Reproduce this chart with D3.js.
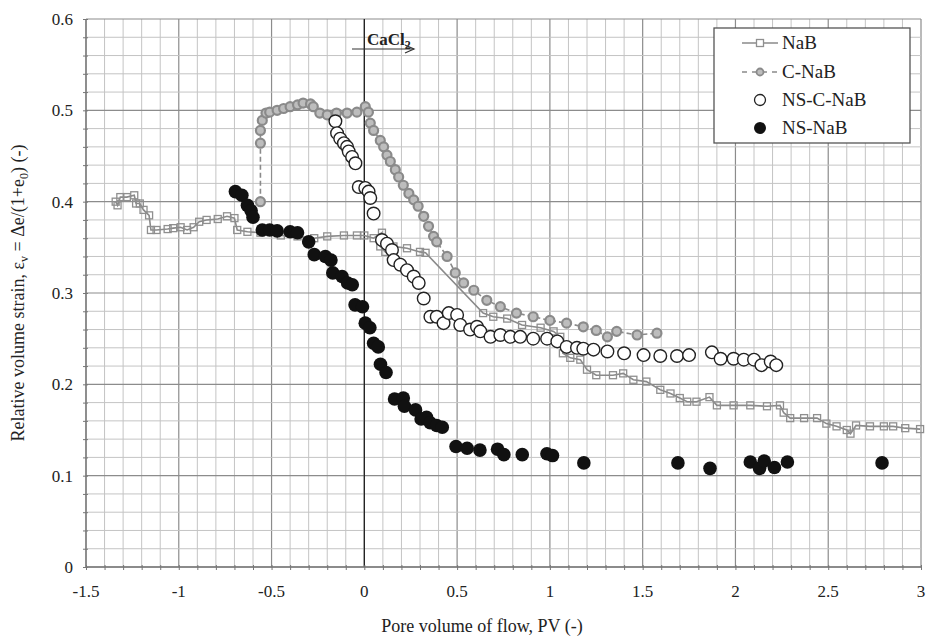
<!DOCTYPE html>
<html>
<head>
<meta charset="utf-8">
<script src="https://cdn.jsdelivr.net/npm/d3@7"></script>
<style>
  body { margin: 0; background: #fff; }
  text { font-family: "Times New Roman", Times, "Liberation Serif", serif !important; }
</style>
</head>
<body>
<svg id="chart" width="933" height="642"></svg>
<script>
// NaB (squares, solid line)
const nabX = [-1.34,-1.33,-1.315,-1.28,-1.24,-1.23,-1.21,-1.19,-1.16,-1.15,-1.12,-1.06,-1.03,-0.99,-0.955,-0.92,-0.89,-0.85,-0.79,-0.74,-0.70,-0.685,-0.63,-0.56,-0.45,-0.36,-0.27,-0.20,-0.11,-0.04,0.0,0.05,0.095,0.086,0.113,0.157,0.23,0.30,0.33,0.64,0.695,0.77,0.85,0.95,1.02,1.056,1.07,1.11,1.164,1.2,1.25,1.34,1.395,1.45,1.52,1.595,1.65,1.70,1.74,1.79,1.86,1.90,1.99,2.08,2.17,2.24,2.26,2.295,2.37,2.44,2.49,2.545,2.60,2.62,2.65,2.725,2.80,2.85,2.915,2.995]
const nabY = [0.400,0.396,0.405,0.405,0.407,0.398,0.398,0.391,0.385,0.369,0.369,0.370,0.371,0.372,0.369,0.372,0.378,0.380,0.381,0.384,0.382,0.369,0.367,0.366,0.363,0.362,0.360,0.362,0.363,0.363,0.363,0.360,0.366,0.351,0.345,0.351,0.349,0.345,0.344,0.278,0.274,0.272,0.265,0.262,0.258,0.252,0.234,0.229,0.227,0.216,0.210,0.210,0.212,0.205,0.203,0.194,0.190,0.185,0.181,0.181,0.186,0.177,0.177,0.177,0.176,0.177,0.169,0.163,0.163,0.163,0.157,0.154,0.150,0.146,0.155,0.154,0.154,0.154,0.152,0.151]

// C-NaB (small grey circles, dashed line)
const cnabX = [-0.56,-0.56,-0.56,-0.55,-0.53,-0.51,-0.47,-0.435,-0.40,-0.36,-0.33,-0.29,-0.275,-0.24,-0.20,-0.15,-0.093,-0.04,0.005,0.022,0.032,0.05,0.086,0.104,0.122,0.14,0.167,0.185,0.21,0.24,0.266,0.29,0.32,0.346,0.373,0.39,0.446,0.49,0.535,0.59,0.66,0.733,0.82,0.91,1.0,1.09,1.18,1.25,1.31,1.36,1.47,1.577]
const cnabY = [0.400,0.464,0.478,0.489,0.497,0.498,0.500,0.502,0.504,0.506,0.508,0.507,0.504,0.497,0.495,0.497,0.497,0.498,0.504,0.498,0.486,0.478,0.467,0.460,0.451,0.444,0.435,0.427,0.418,0.409,0.402,0.395,0.384,0.373,0.362,0.356,0.340,0.322,0.311,0.303,0.292,0.285,0.278,0.274,0.270,0.267,0.263,0.259,0.252,0.258,0.254,0.256]

// NS-C-NaB (open circles)
const nscX = [-0.156,-0.147,-0.13,-0.11,-0.093,-0.084,-0.066,-0.048,-0.03,0.005,0.023,0.032,0.05,0.095,0.122,0.149,0.158,0.194,0.23,0.266,0.293,0.32,0.356,0.39,0.427,0.455,0.5,0.517,0.57,0.607,0.625,0.68,0.733,0.787,0.84,0.91,0.985,1.04,1.09,1.146,1.18,1.235,1.31,1.40,1.505,1.595,1.685,1.75,1.873,1.92,1.99,2.045,2.10,2.14,2.19,2.22]
const nscY = [0.488,0.475,0.469,0.464,0.460,0.455,0.449,0.442,0.416,0.415,0.411,0.404,0.387,0.358,0.354,0.347,0.336,0.331,0.325,0.318,0.311,0.294,0.274,0.274,0.267,0.278,0.276,0.265,0.260,0.263,0.258,0.252,0.254,0.252,0.252,0.250,0.250,0.247,0.241,0.240,0.239,0.238,0.236,0.234,0.232,0.231,0.231,0.232,0.235,0.228,0.228,0.227,0.227,0.221,0.225,0.221]

// NS-NaB (filled black circles)
const nsX = [-0.695,-0.66,-0.63,-0.61,-0.60,-0.55,-0.51,-0.47,-0.40,-0.36,-0.30,-0.27,-0.21,-0.18,-0.17,-0.12,-0.09,-0.065,-0.05,-0.01,0.005,0.03,0.05,0.075,0.087,0.117,0.163,0.21,0.216,0.276,0.306,0.335,0.355,0.39,0.42,0.494,0.554,0.623,0.718,0.752,0.851,0.984,1.014,1.183,1.69,1.863,2.08,2.13,2.155,2.21,2.28,2.79]
const nsY = [0.411,0.407,0.396,0.390,0.383,0.369,0.369,0.368,0.367,0.366,0.356,0.342,0.340,0.336,0.322,0.318,0.311,0.309,0.287,0.285,0.267,0.262,0.245,0.241,0.222,0.213,0.184,0.185,0.176,0.172,0.162,0.164,0.158,0.155,0.153,0.132,0.130,0.128,0.129,0.123,0.123,0.124,0.122,0.114,0.114,0.108,0.115,0.108,0.116,0.109,0.115,0.114]

const xTicks = [-1.5,-1,-0.5,0,0.5,1,1.5,2,2.5,3]
const yTicks = [0,0.1,0.2,0.3,0.4,0.5,0.6]
const legendNames = ['NaB','C-NaB','NS-C-NaB','NS-NaB']

const svg = d3.select('#chart')
const plotL = 86, plotR = 921, plotT = 19, plotB = 567

const x = d3.scaleLinear().domain([-1.5, 3]).range([plotL, plotR])
const y = d3.scaleLinear().domain([0, 0.6]).range([plotB, plotT])

// grid
const grid = svg.append('g')
d3.range(-1.5, 3.0001, 0.1).forEach(v => {
  const major = Math.abs(v * 2 - Math.round(v * 2)) < 1e-6
  grid.append('line')
    .attr('x1', x(v)).attr('x2', x(v)).attr('y1', plotT).attr('y2', plotB)
    .attr('stroke', major ? '#8c8c8c' : '#c4c4c4').attr('stroke-width', major ? 1.2 : 1)
})
d3.range(0, 0.6001, 0.02).forEach(v => {
  const major = Math.abs(v * 10 - Math.round(v * 10)) < 1e-6
  grid.append('line')
    .attr('x1', plotL).attr('x2', plotR).attr('y1', y(v)).attr('y2', y(v))
    .attr('stroke', major ? '#8c8c8c' : '#c4c4c4').attr('stroke-width', major ? 1.2 : 1)
})
// x = 0 line
svg.append('line').attr('x1', x(0)).attr('x2', x(0)).attr('y1', plotT).attr('y2', plotB)
  .attr('stroke', '#222').attr('stroke-width', 1.3)

// axes
const xAxis = d3.axisBottom(x).tickValues(d3.range(-1.5, 3.0001, 0.1)).tickSize(5).tickFormat('')
svg.append('g').attr('transform', `translate(0,${plotB - 2})`).call(xAxis)
  .call(g => g.select('.domain').remove())
  .call(g => g.selectAll('line').attr('stroke', '#777'))
svg.append('line').attr('x1', plotL).attr('x2', plotR).attr('y1', plotB).attr('y2', plotB)
  .attr('stroke', '#777').attr('stroke-width', 1.3)
const yAxis = d3.axisLeft(y).tickValues(d3.range(0, 0.6001, 0.02)).tickSize(5).tickFormat('')
svg.append('g').attr('transform', `translate(${plotL + 2},0)`).call(yAxis)
  .call(g => g.select('.domain').remove())
  .call(g => g.selectAll('line').attr('stroke', '#777'))
svg.append('line').attr('x1', plotL).attr('x2', plotL).attr('y1', plotT).attr('y2', plotB)
  .attr('stroke', '#777').attr('stroke-width', 1.3)

svg.selectAll('.xl').data(xTicks).enter().append('text')
  .attr('x', d => x(d)).attr('y', 597).attr('text-anchor', 'middle')
  .attr('font-size', 17).attr('fill', '#222').text(d => d)
svg.selectAll('.yl').data(yTicks).enter().append('text')
  .attr('x', 73).attr('y', d => y(d) + 6).attr('text-anchor', 'end')
  .attr('font-size', 17).attr('fill', '#222').text(d => d)

svg.append('text').attr('x', 482).attr('y', 632).attr('text-anchor', 'middle')
  .attr('font-size', 18).attr('fill', '#222').text('Pore volume of flow, PV (-)')
const yt = svg.append('text').attr('transform', 'translate(24,293) rotate(-90)')
  .attr('text-anchor', 'middle').attr('font-size', 18).attr('fill', '#222')
yt.append('tspan').text('Relative volume strain, ε')
yt.append('tspan').attr('font-size', 12).attr('dy', 4).text('v')
yt.append('tspan').attr('dy', -4).text(' = Δe/(1+e')
yt.append('tspan').attr('font-size', 12).attr('dy', 4).text('0')
yt.append('tspan').attr('dy', -4).text(') (-)')

// series
const nab = nabX.map((d, i) => [d, nabY[i]])
const cnab = cnabX.map((d, i) => [d, cnabY[i]])
const nsc = nscX.map((d, i) => [d, nscY[i]])
const ns = nsX.map((d, i) => [d, nsY[i]])
const line = d3.line().x(d => x(d[0])).y(d => y(d[1]))

svg.append('path').datum(nab).attr('d', line).attr('fill', 'none')
  .attr('stroke', '#8a8a8a').attr('stroke-width', 1.6)
svg.selectAll('.sq').data(nab).enter().append('rect')
  .attr('x', d => x(d[0]) - 3.5).attr('y', d => y(d[1]) - 3.5)
  .attr('width', 7).attr('height', 7)
  .attr('fill', 'none').attr('stroke', '#8f8f8f').attr('stroke-width', 1.3)

svg.append('path').datum(cnab).attr('d', line).attr('fill', 'none')
  .attr('stroke', '#8a8a8a').attr('stroke-width', 1.6).attr('stroke-dasharray', '5,3')
svg.selectAll('.cc').data(cnab).enter().append('circle')
  .attr('cx', d => x(d[0])).attr('cy', d => y(d[1])).attr('r', 4.5)
  .attr('fill', '#bdbdbd').attr('stroke', '#8a8a8a').attr('stroke-width', 2.2)

svg.selectAll('.oc').data(nsc).enter().append('circle')
  .attr('cx', d => x(d[0])).attr('cy', d => y(d[1])).attr('r', 6.3)
  .attr('fill', '#fff').attr('stroke', '#222').attr('stroke-width', 1.4)

svg.selectAll('.fc').data(ns).enter().append('circle')
  .attr('cx', d => x(d[0])).attr('cy', d => y(d[1])).attr('r', 6.8)
  .attr('fill', '#111')

// CaCl2 annotation
const ca = svg.append('text').attr('x', 367).attr('y', 45).attr('font-size', 17)
  .attr('font-weight', 'bold').attr('fill', '#222')
ca.append('tspan').text('CaCl')
ca.append('tspan').attr('font-size', 12).attr('dy', 4).text('2')
svg.append('line').attr('x1', 352).attr('x2', 414).attr('y1', 49).attr('y2', 49)
  .attr('stroke', '#333').attr('stroke-width', 1.2)
svg.append('path').attr('d', 'M405,45 L414,49 L405,53').attr('fill', 'none')
  .attr('stroke', '#333').attr('stroke-width', 1.2)

// legend
const lg = svg.append('g')
lg.append('rect').attr('x', 714).attr('y', 28).attr('width', 196).attr('height', 115)
  .attr('fill', '#fff').attr('stroke', '#555').attr('stroke-width', 1.3)
const ly = [43, 72, 100, 128]
lg.append('line').attr('x1', 742).attr('x2', 778).attr('y1', ly[0]).attr('y2', ly[0])
  .attr('stroke', '#8a8a8a').attr('stroke-width', 1.6)
lg.append('rect').attr('x', 756.5).attr('y', ly[0] - 3.5).attr('width', 7).attr('height', 7)
  .attr('fill', '#fff').attr('stroke', '#8f8f8f').attr('stroke-width', 1.3)
lg.append('line').attr('x1', 742).attr('x2', 778).attr('y1', ly[1]).attr('y2', ly[1])
  .attr('stroke', '#8a8a8a').attr('stroke-width', 1.6).attr('stroke-dasharray', '5,5')
lg.append('circle').attr('cx', 760).attr('cy', ly[1]).attr('r', 3.5)
  .attr('fill', '#bdbdbd').attr('stroke', '#8a8a8a').attr('stroke-width', 1.8)
lg.append('circle').attr('cx', 760).attr('cy', ly[2]).attr('r', 5.5)
  .attr('fill', '#fff').attr('stroke', '#222').attr('stroke-width', 1.3)
lg.append('circle').attr('cx', 760).attr('cy', ly[3]).attr('r', 6)
  .attr('fill', '#111')
lg.selectAll('.lt').data(legendNames).enter().append('text')
  .attr('x', 782).attr('y', (d, i) => ly[i] + 6).attr('font-size', 19).attr('fill', '#222')
  .text(d => d)
</script>
</body>
</html>
